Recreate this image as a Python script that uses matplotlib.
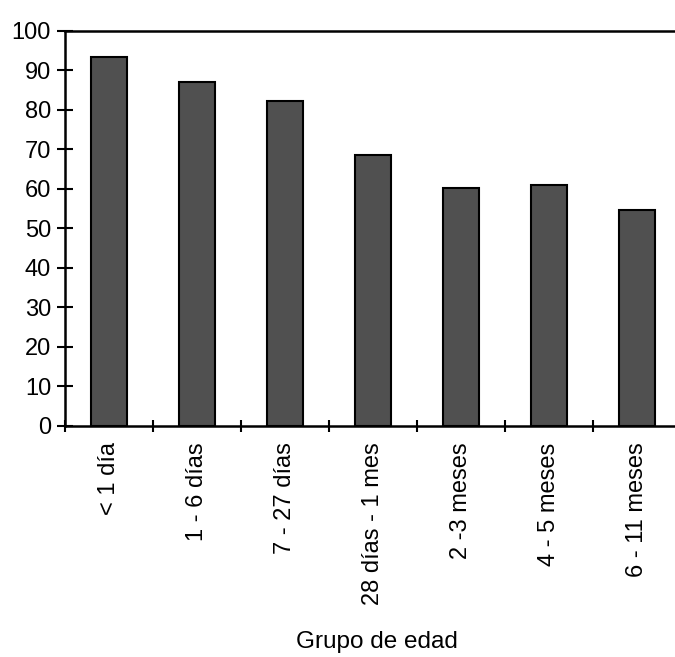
import numpy as np
import matplotlib
matplotlib.use("Agg")
import matplotlib.pyplot as plt

grupos = ["< 1 día", "1 - 6 días", "7 - 27 días", "28 días - 1 mes",
          "2 -3 meses", "4 - 5 meses", "6 - 11 meses"]
valores = [93.3, 87.0, 82.3, 68.5, 60.3, 60.9, 54.6]
yticks = [0, 10, 20, 30, 40, 50, 60, 70, 80, 90, 100]

plt.rcParams['font.family'] = ['Liberation Sans Narrow', 'Liberation Sans', 'DejaVu Sans']

fig = plt.figure(figsize=(6.75, 6.57), dpi=100)
ax = fig.add_axes([0.0963, 0.352, 0.9126, 0.601])

x = np.arange(len(grupos))
ax.bar(x, valores, width=0.4, color='#505050', edgecolor='black', linewidth=1.5)

ax.set_xlim(-0.5, len(grupos) - 0.5)
ax.set_ylim(0, 100)
ax.set_yticks(yticks)
ax.set_yticklabels([str(v) for v in yticks], fontsize=17)

ax.set_xticks(x)
ax.set_xticklabels(grupos, rotation=90, fontsize=17)
ax.set_xticks(np.arange(len(grupos) + 1) - 0.5, minor=True)
ax.tick_params(axis='x', which='major', length=0, pad=12)
ax.tick_params(axis='x', which='minor', length=9, width=1.5, direction='inout')
ax.tick_params(axis='y', length=12, width=1.5, direction='inout', pad=4)

for s in ['left', 'bottom', 'top']:
    ax.spines[s].set_linewidth(1.8)
ax.spines['right'].set_visible(False)

# axis title placed where the reference has it
fig.text(0.558, 0.0137, "Grupo de edad", fontsize=17.5, ha='center', va='baseline')

fig.savefig("out.png", dpi=100)
